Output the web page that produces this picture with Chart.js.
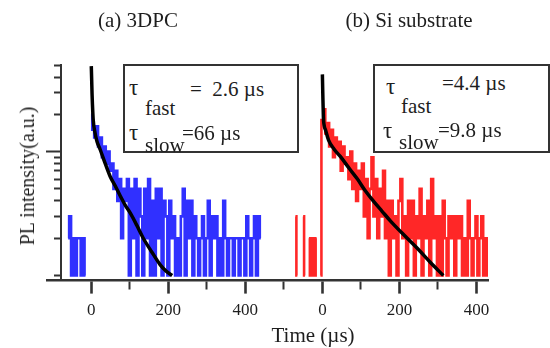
<!DOCTYPE html>
<html>
<head>
<meta charset="utf-8">
<script src="https://cdn.jsdelivr.net/npm/chart.js@4.4.1/dist/chart.umd.min.js"></script>
<style>
  html, body { margin: 0; padding: 0; background: #fff; }
  #wrap { position: relative; width: 550px; height: 348px; overflow: hidden; font-family: "Liberation Serif", "DejaVu Serif", serif; color: #1e1e1e; }
  #c { position: absolute; left: 0; top: 0; }
  .t { position: absolute; white-space: nowrap; line-height: 1; transform: translateY(-50%); }
  .ctr { transform: translate(-50%, -50%); }
  .box { position: absolute; border: 2.5px solid #333; background: #fff; box-sizing: border-box; }
</style>
</head>
<body>
<div id="wrap">
  <canvas id="c" width="550" height="348"></canvas>

  <div class="t ctr" style="left:138px; top:20px; font-size:21px;">(a) 3DPC</div>
  <div class="t ctr" style="left:409px; top:20px; font-size:21px;">(b) Si substrate</div>
  <div class="t" style="left:27px; top:176px; font-size:20px; transform: translate(-50%,-50%) rotate(-90deg);">PL intensity(a.u.)</div>
  <div class="t ctr" style="left:313px; top:335px; font-size:21px;">Time (µs)</div>

  <div class="box" style="left:123px; top:64px; width:176px; height:89px;"></div>
  <div class="t" style="left:129px; top:87px; font-size:23px;">τ</div>
  <div class="t" style="left:145px; top:108px; font-size:21px;">fast</div>
  <div class="t" style="left:190px; top:89px; font-size:21px;">=&nbsp;&nbsp;2.6 µs</div>
  <div class="t" style="left:129px; top:132px; font-size:23px;">τ</div>
  <div class="t" style="left:145px; top:145px; font-size:21px;">slow</div>
  <div class="t" style="left:182px; top:133px; font-size:21px;">=66 µs</div>

  <div class="box" style="left:373px; top:64px; width:177px; height:89px;"></div>
  <div class="t" style="left:386px; top:86px; font-size:23px;">τ</div>
  <div class="t" style="left:401px; top:106px; font-size:21px;">fast</div>
  <div class="t" style="left:442px; top:83px; font-size:21px;">=4.4 µs</div>
  <div class="t" style="left:383px; top:130px; font-size:23px;">τ</div>
  <div class="t" style="left:399px; top:142px; font-size:21px;">slow</div>
  <div class="t" style="left:438px; top:130px; font-size:21px;">=9.8 µs</div>
</div>
<script>
// ---- data (times in µs, intensities in counts, a.u.) ----
const binWidth = 5;

// (a) 3DPC measured decay, first bin at t = -65 µs
const blueStart = -65;
const blueCounts = [
  null, 2, 3, 1, 2, 1, 2, 2, 1, 2, 1, null, null,
  20, 15, 13, 16, 11, 13, 9, 11, 8, 10, 7, 8, 5, 7, 4, 6, 2, 5, 4, 6,
  1, 5, 2, 6, 1, 5, 3, 1, 5, 2, 6, 1, 4, 1, 5, 2, 5, 1, 4, 3,
  1, 4, 2, 3, 1, 2, 1, 3, 5, 1, 4, 2, 4, 1, 3, 2, 1, 2, 3, 1,
  2, 4, 1, 3, 2, 3, 1, 2, 1, 4, 2, 1, 2, 2, 1, 2, 2, 1, 2, 2,
  1, 3, 2, 1, 2, 3, 1, 3, 2
];

// (b) Si substrate measured decay, first bin at t = -70 µs
const redStart = -70;
const redCounts = [
  3, 1, null, null, 3, 1, null, 2, 1, 2, 1, 2, null, 1,
  18, 22, 14, 17, 11, 15, 9, 13, 10, 12, 7, 11, 8, 9, 6, 10, 5, 8, 4, 7,
  5, 8, 3, 6, 2, 5, 9, 3, 6, 2, 5, 3, 7, 2, 4, 1, 4, 2, 3, 1,
  4, 6, 2, 3, 1, 4, 2, 4, 1, 3, 2, 5, 1, 3, 2, 4, 1, 6, 2, 3,
  1, 3, 1, 4, 2, 1, 3, 2, 3, 1, 3, 2, 3, 1, 2, 1, 4, 2, 1, 2,
  3, 1, 2, 3, 1, 2, 1, 2
];

// bi-exponential fits
const fitATimes  = [0, 1, 2, 3, 5, 10, 15, 23, 35, 49, 62, 75, 88, 101, 118, 135, 157, 179, 195, 210];
const fitAValues = [49, 38, 29, 24, 18, 14, 12, 10.4, 8.2, 6.3, 5.3, 4.4, 3.7, 3.2, 2.55, 2.0, 1.55, 1.22, 1.08, 1.0];
const fitBTimes  = [0, 1, 2.6, 5, 8, 16, 30, 47, 70, 91, 110, 132, 155, 177, 210, 247, 280, 314];
const fitBValues = [42, 30, 19, 16, 15, 12.4, 10.5, 9.1, 7.3, 6.0, 4.9, 4.0, 3.3, 2.75, 2.15, 1.65, 1.28, 1.0];

// the two panels share one time axis; panel (b) is shifted by this many µs
const panelOffsetB = 600;

const xTickValues = [0, 100, 200, 300, 400, 500, 600, 700, 800, 900, 1000];
const xTickLabels = ['0', '', '200', '', '400', '', '0', '', '200', '', '400'];
const xMajorTicks = [0, 200, 400, 600, 800, 1000];
const yTickValues = [1, 2, 3, 4, 5, 6, 7, 8, 9, 10, 20, 30, 40, 50];
const yMajorTicks = [10];

// ---- build datasets ----
function binned(start, counts, offset) {
  return counts.map((v, i) => ({ x: start + i * binWidth + offset, y: v }));
}
function paired(times, values, offset) {
  return times.map((t, i) => ({ x: t + offset, y: values[i] }));
}

new Chart(document.getElementById('c'), {
  type: 'line',
  data: {
    datasets: [
      { label: 'fit (a)', data: paired(fitATimes, fitAValues, 0), borderColor: '#000', borderWidth: 3.5, pointRadius: 0, cubicInterpolationMode: 'monotone', order: 0 },
      { label: 'fit (b)', data: paired(fitBTimes, fitBValues, panelOffsetB), borderColor: '#000', borderWidth: 3.5, pointRadius: 0, cubicInterpolationMode: 'monotone', order: 0 },
      { label: '3DPC', data: binned(blueStart, blueCounts, 0), stepped: 'middle', borderColor: 'rgba(25,25,255,0.9)', borderWidth: 2.6, borderJoinStyle: 'miter', pointRadius: 0, order: 1 },
      { label: 'Si substrate', data: binned(redStart, redCounts, panelOffsetB), stepped: 'middle', borderColor: 'rgba(255,15,15,0.9)', borderWidth: 2.6, borderJoinStyle: 'miter', pointRadius: 0, order: 1 }
    ]
  },
  options: {
    responsive: false,
    animation: false,
    devicePixelRatio: 1,
    layout: { padding: { left: 47, right: 62, top: 65, bottom: 20 } },
    plugins: { legend: { display: false }, title: { display: false }, tooltip: { enabled: false } },
    scales: {
      x: {
        type: 'linear',
        min: -115,
        max: 1030,
        position: 'bottom',
        afterBuildTicks: (s) => { s.ticks = xTickValues.map(v => ({ value: v })); },
        ticks: {
          padding: 7,
          maxRotation: 0,
          autoSkip: false,
          color: '#1e1e1e',
          font: { family: 'Liberation Serif', size: 17 },
          callback: (v) => { const i = xTickValues.indexOf(v); return i >= 0 ? xTickLabels[i] : ''; }
        },
        grid: {
          drawOnChartArea: false,
          drawTicks: true,
          tickLength: 13,
          tickColor: '#333',
          tickWidth: (ctx) => (ctx.tick && xMajorTicks.includes(ctx.tick.value)) ? 2.6 : 2,
          tickBorderDash: (ctx) => (ctx.tick && xMajorTicks.includes(ctx.tick.value)) ? [] : [8, 40]
        },
        border: { display: true, color: '#333', width: 2.5 }
      },
      y: {
        type: 'logarithmic',
        min: 0.91,
        max: 50,
        position: { x: -78 },
        afterBuildTicks: (s) => { s.ticks = yTickValues.map(v => ({ value: v })); },
        ticks: { display: false },
        grid: {
          drawOnChartArea: false,
          drawTicks: true,
          tickLength: 14,
          tickColor: '#333',
          tickWidth: 2,
          tickBorderDash: (ctx) => (ctx.tick && yMajorTicks.includes(ctx.tick.value)) ? [] : [6, 40]
        },
        border: { display: true, color: '#333', width: 2 }
      }
    }
  }
});
</script>
</body>
</html>
